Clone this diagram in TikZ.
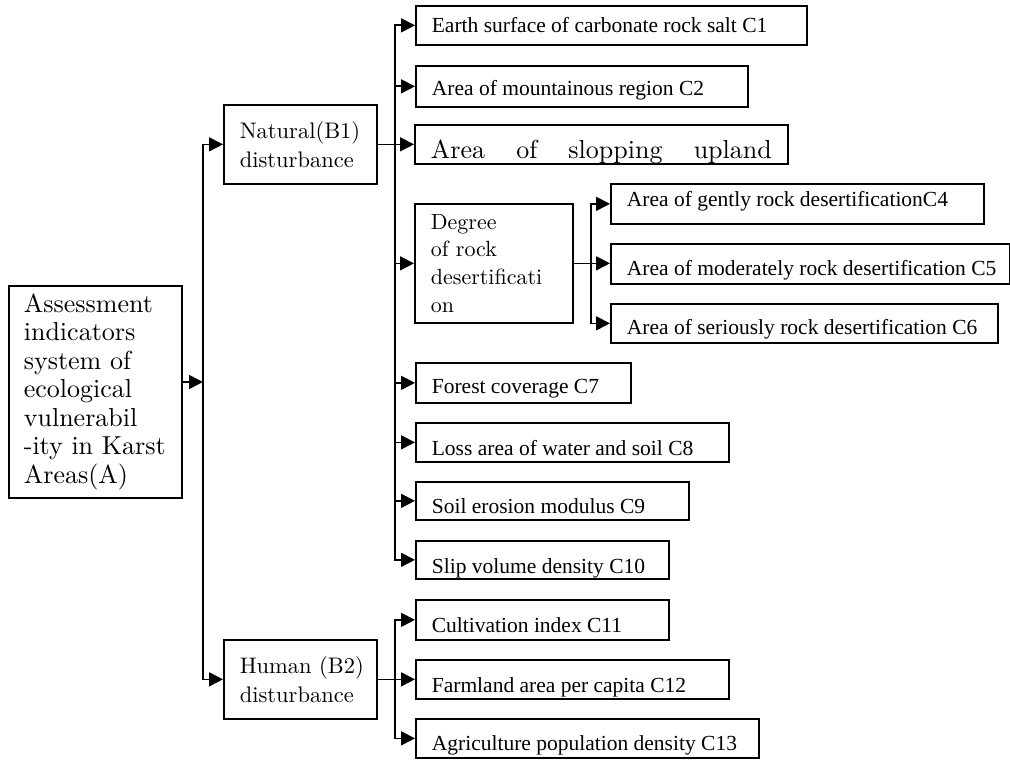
\documentclass[tikz,border=0pt]{standalone}
\usepackage{fontspec}
\newfontfamily\tms{Liberation Serif}
\newfontfamily\lmt{lmroman10-regular.otf}
\usetikzlibrary{arrows.meta}
\begin{document}
\begin{tikzpicture}[x=1pt,y=-1pt,
  box/.style={draw, line width=1.7pt, anchor=north west, inner ysep=0pt},
  cbox/.style={box, inner xsep=16pt, text depth=0pt, font=\tms\fontsize{21.5}{24}\selectfont},
  arr/.style={line width=1.7pt, -{Triangle[length=14pt,width=14pt]}}
]
\useasboundingbox (0,0) rectangle (1010,760);

% level A
\node[box, minimum width=173, minimum height=212, inner xsep=15pt, text width=143pt, align=left,
      font=\lmt\fontsize{26}{28.5}\selectfont] (A) at (8,285)
  {Assessment\\indicators\\system of\\ecological\\vulnerabil\\-ity in Karst\\Areas(A)};

% level B
\node[box, minimum width=153, minimum height=79, inner xsep=16pt, text width=121pt, align=left,
      font=\lmt\fontsize{22.5}{29}\selectfont] (B1) at (223,104) {Natural(B1)\\disturbance};
\node[box, minimum width=153, minimum height=79, inner xsep=16pt, text width=121pt, align=left,
      font=\lmt\fontsize{22.5}{29}\selectfont] (B2) at (223,639) {Human~(B2)\\disturbance};

% natural indicators
\node[cbox, minimum width=391, minimum height=39, text height=15pt] (C1) at (415,5)
  {\makebox[359pt][l]{Earth surface of carbonate rock salt C1}};
\node[cbox, minimum width=332, minimum height=41, text height=19pt] (C2) at (415,65)
  {\makebox[300pt][l]{Area of mountainous region C2}};
\node[box, minimum width=373, minimum height=39, inner xsep=16pt, text height=29pt, text depth=0pt,
      font=\lmt\fontsize{26}{30}\selectfont] (C3) at (414,124)
  {\makebox[341pt][l]{Area\hfill of\hfill slopping\hfill upland}};
\node[box, minimum width=158, minimum height=119, inner xsep=16pt, text width=126pt, align=left,
      font=\lmt\fontsize{22}{27.7}\selectfont] (D) at (414,203)
  {Degree\\of rock\\desertificati\\on};
\node[cbox, minimum width=373, minimum height=40, text height=6pt] (C4) at (610,183)
  {\makebox[341pt][l]{Area of gently rock desertificationC4}};
\node[cbox, minimum width=399, minimum height=40, text height=24pt] (C5) at (610,243)
  {\makebox[367pt][l]{Area of moderately rock desertification C5}};
\node[cbox, minimum width=387, minimum height=39, text height=23pt] (C6) at (610,303)
  {\makebox[355pt][l]{Area of seriously rock desertification C6}};
\node[cbox, minimum width=215, minimum height=40, text height=22pt] (C7) at (415,362)
  {\makebox[183pt][l]{Forest coverage C7}};
\node[cbox, minimum width=313, minimum height=39, text height=27pt] (C8) at (415,422)
  {\makebox[281pt][l]{Loss area of water and soil C8}};
\node[cbox, minimum width=273, minimum height=38, text height=26pt] (C9) at (415,481)
  {\makebox[241pt][l]{Soil erosion modulus C9}};
\node[cbox, minimum width=253, minimum height=38, text height=28pt] (C10) at (415,540)
  {\makebox[221pt][l]{Slip volume density C10}};

% human indicators
\node[cbox, minimum width=253, minimum height=40, text height=26pt] (C11) at (415,599)
  {\makebox[221pt][l]{Cultivation index C11}};
\node[cbox, minimum width=313, minimum height=39, text height=27pt] (C12) at (415,659)
  {\makebox[281pt][l]{Farmland area per capita C12}};
\node[cbox, minimum width=343, minimum height=39, text height=25pt] (C13) at (415,718)
  {\makebox[311pt][l]{Agriculture population density C13}};

% bus coordinates
\coordinate (trunk) at (203,382);
\coordinate (bus1) at (395,0);
\coordinate (bus2) at (591,0);

% connectors
\draw[arr] (A.east |- trunk) -- (trunk);
\draw[arr] (trunk |- B2.west) |- (B1.west);
\draw[arr] (trunk |- B1.west) |- (B2.west);

\draw[arr] (B1.east) -- (B1.east -| C3.west);
\draw[arr] (bus1 |- C10.west) |- (C1.west);
\draw[arr] (bus1 |- C1.west) |- (C10.west);
\foreach \n in {C2,D,C7,C8,C9} \draw[arr] (bus1 |- \n.west) -- (\n.west);

\draw[arr] (D.east) -- (D.east -| C5.west);
\draw[arr] (bus2 |- C6.west) |- (C4.west);
\draw[arr] (bus2 |- C4.west) |- (C6.west);

\draw[arr] (B2.east) -- (B2.east -| C12.west);
\draw[arr] (bus1 |- C13.west) |- (C11.west);
\draw[arr] (bus1 |- C11.west) |- (C13.west);
\end{tikzpicture}
\end{document}
